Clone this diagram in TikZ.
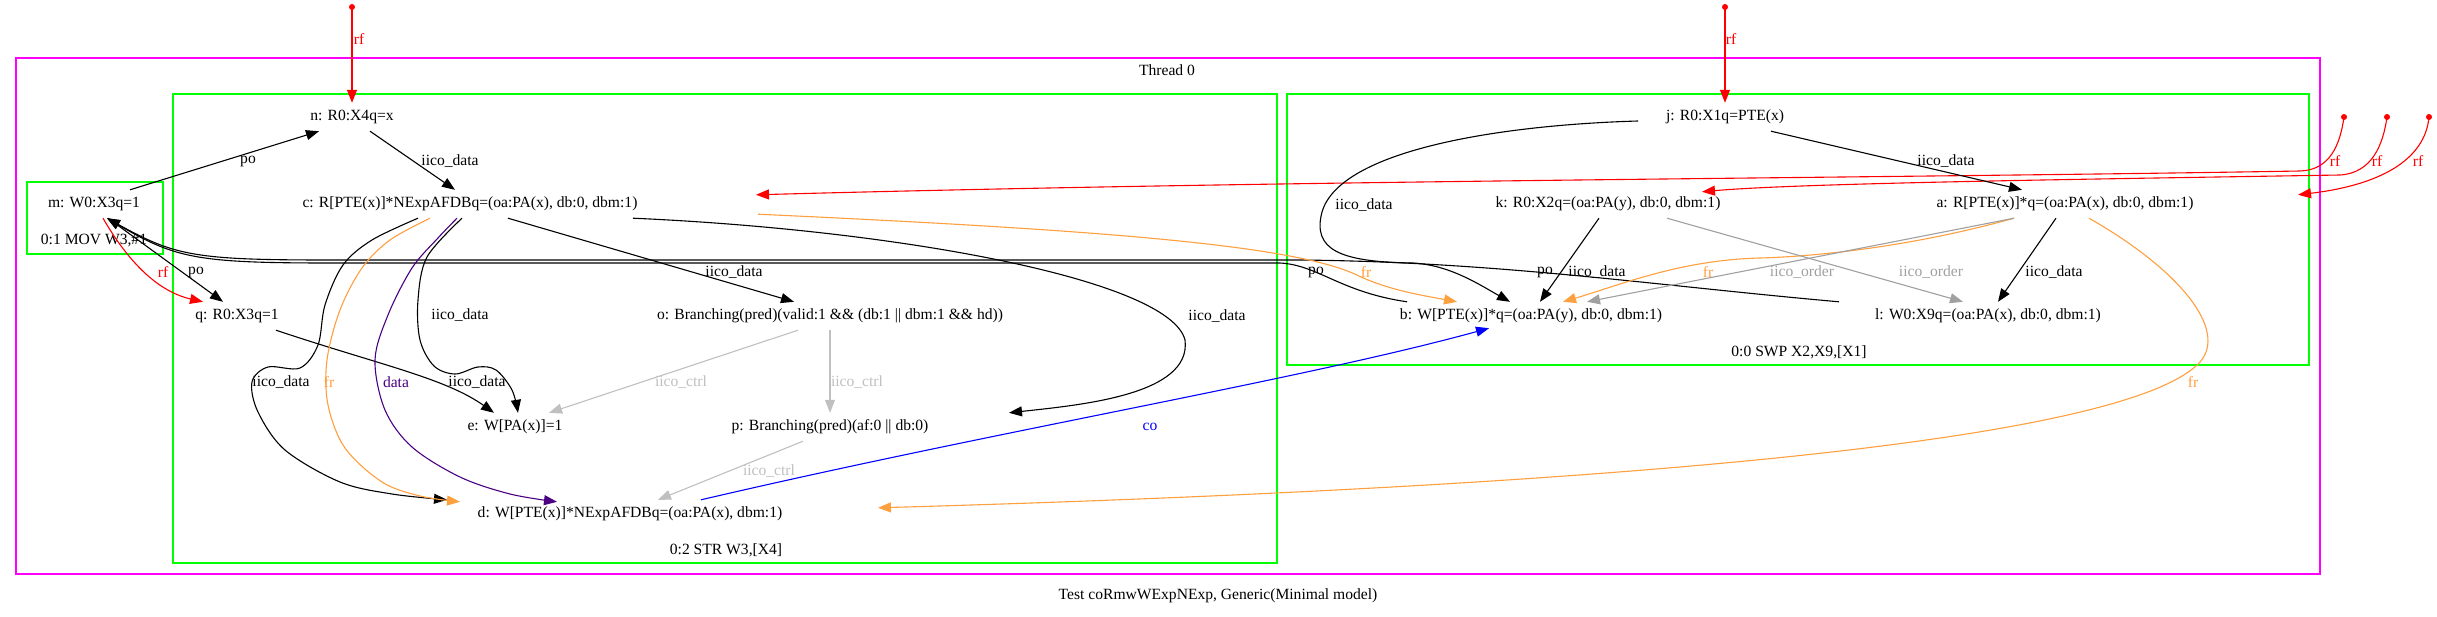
\documentclass[tikz,border=0pt]{standalone}
\usepackage{fontspec}
\setmainfont{Liberation Serif}
\usetikzlibrary{arrows.meta}
\definecolor{frcol}{RGB}{255,160,64}
\definecolor{ctrlcol}{RGB}{192,192,192}
\definecolor{ordcol}{RGB}{160,160,160}
\definecolor{datacol}{RGB}{75,0,130}
\definecolor{magcol}{RGB}{255,0,255}
\definecolor{grncol}{RGB}{0,255,0}
\definecolor{cocol}{RGB}{0,0,255}
\definecolor{rfcol}{RGB}{255,0,0}
\newcommand{\fs}{\fontsize{15.6}{18}\selectfont}
\tikzset{
  lbl/.style={inner sep=0pt, minimum height=28pt, font=\fs},
  elab/.style={inner sep=0pt, font=\fs},
  edgeline/.style={line width=1.1pt, -{Triangle[length=13pt,width=10pt]}},
  blk/.style={edgeline, draw=black},
  rfe/.style={edgeline, draw=rfcol},
  fre/.style={edgeline, draw=frcol},
  ctrle/.style={edgeline, draw=ctrlcol},
  orde/.style={edgeline, draw=ordcol},
  datae/.style={edgeline, draw=datacol},
  coe/.style={edgeline, draw=cocol},
  clus/.style={draw=grncol, line width=1.6pt},
  thr/.style={draw=magcol, line width=1.6pt},
  srcdot/.style={circle, fill=rfcol, inner sep=0pt, minimum size=6pt},
}
\begin{document}
\begin{tikzpicture}[x=1pt,y=-1pt]
\useasboundingbox (0,0) rectangle (2437,616);
\fill[white] (0,0) rectangle (2437,616);
% clusters
\draw[thr] (16,58) rectangle (2320,574);
\draw[clus] (173,94) rectangle (1277,563);
\draw[clus] (1287,94) rectangle (2309,365);
\draw[clus] (27,182) rectangle (163,254);
\node[elab] (thread) at (1167,70) {Thread 0};
\node[elab] (title) at (1218,596) {Test coRmwWExpNExp, Generic(Minimal model)};
\node[elab] (cl1) at (94,241) {0:1 MOV W3,\#1};
\node[elab] (cl2) at (726,550) {0:2 STR W3,[X4]};
\node[elab] (cl0) at (1799,352) {0:0 SWP X2,X9,[X1]};
% nodes
\node[lbl] (n) at (352,117) {n: R0:X4q=x};
\node[lbl] (m) at (94,204) {m: W0:X3q=1};
\node[lbl] (c) at (470,204) {c: R[PTE(x)]*NExpAFDBq=(oa:PA(x), db:0, dbm:1)};
\node[lbl] (q) at (237,316) {q: R0:X3q=1};
\node[lbl] (o) at (830,316) {o: Branching(pred)(valid:1 \&\& (db:1 || dbm:1 \&\& hd))};
\node[lbl] (e) at (515,427) {e: W[PA(x)]=1};
\node[lbl] (p) at (830,427) {p: Branching(pred)(af:0 || db:0)};
\node[lbl] (d) at (630,514) {d: W[PTE(x)]*NExpAFDBq=(oa:PA(x), dbm:1)};
\node[lbl] (j) at (1725,117) {j: R0:X1q=PTE(x)};
\node[lbl] (k) at (1608,204) {k: R0:X2q=(oa:PA(y), db:0, dbm:1)};
\node[lbl] (a) at (2065,204) {a: R[PTE(x)]*q=(oa:PA(x), db:0, dbm:1)};
\node[lbl] (b) at (1531,316) {b: W[PTE(x)]*q=(oa:PA(y), db:0, dbm:1)};
\node[lbl] (l) at (1988,316) {l: W0:X9q=(oa:PA(x), db:0, dbm:1)};
% rf sources
\node[srcdot] (s1) at (352,7) {};
\node[srcdot] (s2) at (1725,7) {};
\node[srcdot] (s3) at (2344,117) {};
\node[srcdot] (s4) at (2387,117) {};
\node[srcdot] (s5) at (2429,117) {};
% rf edges
\draw[rfe] (s1.center) -- (n.north) node[elab, text=rfcol] at (359,39) {rf};
\draw[rfe] (s2.center) -- (j.north) node[elab, text=rfcol] at (1731,39) {rf};
\draw[rfe] (s3.center) .. controls (2340,145) and (2330,170) .. (2300,171) .. controls (1900,178) and (1300,180) .. ([xshift=286,yshift=-5]c.north) node[elab, text=rfcol] at (2335,161) {rf};
\draw[rfe] (s4.center) .. controls (2383,145) and (2372,173) .. (2340,175) .. controls (2100,179) and (1800,183) .. ([xshift=94,yshift=-2]k.north) node[elab, text=rfcol] at (2377,161) {rf};
\draw[rfe] (s5.center) .. controls (2425,160) and (2380,185) .. ([xshift=233,yshift=-5]a.north) node[elab, text=rfcol] at (2418,161) {rf};
\draw[rfe] ([xshift=9]m.south) .. controls (130,265) and (160,292) .. ([xshift=-34]q.north) node[elab, text=rfcol] at (163,272) {rf};
% po edges
\draw[blk] ([xshift=36]m.north) -- ([xshift=-33]n.south) node[elab] at (248,161) {po};
\draw[blk] ([xshift=14]m.south) -- ([xshift=-14]q.north) node[elab] at (196,272) {po};
\draw[blk] ([xshift=-124]b.north) .. controls (1340,292) and (1318,265) .. (1280,263) -- (330,263) .. controls (195,263) and (175,258) .. ([xshift=13]m.south) node[elab] at (1316,272) {po};
\draw[blk] ([xshift=-149]l.north) .. controls (1650,285) and (1500,262) .. (1300,260) -- (330,260) .. controls (195,260) and (175,256) .. ([xshift=13]m.south) node[elab] at (1545,272) {po};
% iico_data edges
\draw[blk] ([xshift=18]n.south) -- ([xshift=-15]c.north) node[elab] at (450,161) {iico\_data};
\draw[blk] plot[smooth, tension=0.55] coordinates {([xshift=-8]c.south) (427,257) (418,300) (420,340) (434,366) (455,374) (478,367) (496,370) (512,390) ([xshift=3]e.north)} node[elab] at (460,315) {iico\_data};
\draw[blk] ([xshift=39]q.south) .. controls (380,365) and (445,378) .. ([xshift=-21]e.north) node[elab] at (477,382) {iico\_data};
\draw[blk] plot[smooth, tension=0.55] coordinates {([xshift=-52]c.south) (372,240) (343,265) (325,305) (318,345) (300,368) (268,367) (252,382) (258,412) (285,450) (340,482) (392,494) ([xshift=-183]d.north)} node[elab] at (281,382) {iico\_data};
\draw[fre] plot[smooth, tension=0.55] coordinates {([xshift=-40]c.south) (390,240) (362,268) (340,310) (327,360) (328,405) (345,448) (382,482) (420,496) ([xshift=-170,yshift=-2]d.north)} node[elab, text=frcol] at (329,382) {fr};
\draw[datae] plot[smooth, tension=0.55] coordinates {([xshift=-13]c.south) (438,238) (412,268) (388,315) (375,360) (385,410) (412,447) (460,477) (510,494) ([xshift=-73,yshift=-2]d.north)} node[elab, text=datacol] at (396,382) {data};
\draw[blk] ([xshift=38]c.south) -- ([xshift=-36]o.north) node[elab] at (734,272) {iico\_data};
\draw[blk] ([xshift=163]c.south) .. controls (900,230) and (1170,280) .. (1185,340) .. controls (1192,395) and (1080,405) .. ([xshift=179]p.north) node[elab] at (1217,316) {iico\_data};
\draw[fre] ([xshift=288,yshift=4]c.south) .. controls (1100,230) and (1300,245) .. (1361,277) .. controls (1390,290) and (1420,295) .. ([xshift=-74]b.north) node[elab, text=frcol] at (1366,272) {fr};
% ctrl
\draw[ctrle] ([xshift=-32]o.south) -- ([xshift=34]e.north) node[elab, text=ctrlcol] at (681,382) {iico\_ctrl};
\draw[ctrle] (o.south) -- (p.north) node[elab, text=ctrlcol] at (857,382) {iico\_ctrl};
\draw[ctrle] ([xshift=-27]p.south) -- ([xshift=28]d.north) node[elab, text=ctrlcol] at (769,471) {iico\_ctrl};
% co
\draw[coe] ([xshift=71]d.north) .. controls (1000,430) and (1300,380) .. ([xshift=-42,yshift=2]b.south) node[elab, text=cocol] at (1150,427) {co};
% right cluster
\draw[blk] ([xshift=-87,yshift=-4]j.center) .. controls (1500,125) and (1340,150) .. (1322,212) .. controls (1312,250) and (1340,262) .. (1413,263) .. controls (1450,265) and (1480,285) .. ([xshift=-21]b.north) node[elab] at (1364,205) {iico\_data};
\draw[blk] ([xshift=46]j.south) -- ([xshift=-43]a.north) node[elab] at (1946,161) {iico\_data};
\draw[blk] ([xshift=-9]k.south) -- ([xshift=9]b.north) node[elab] at (1597,272) {iico\_data};
\draw[fre] ([xshift=-51]a.south) .. controls (1900,250) and (1800,257) .. (1760,258) .. controls (1680,260) and (1620,285) .. ([xshift=32]b.north) node[elab, text=frcol] at (1708,272) {fr};
\draw[orde] ([xshift=-51]a.south) -- ([xshift=56]b.north) node[elab, text=ordcol] at (1802,272) {iico\_order};
\draw[orde] ([xshift=59]k.south) -- ([xshift=-25]l.north) node[elab, text=ordcol] at (1931,272) {iico\_order};
\draw[blk] ([xshift=-9]a.south) -- ([xshift=10]l.north) node[elab] at (2054,272) {iico\_data};
\draw[fre] ([xshift=24]a.south) .. controls (2180,270) and (2228,330) .. (2200,362) .. controls (2120,450) and (1500,490) .. ([xshift=248,yshift=-8]d.north) node[elab, text=frcol] at (2193,382) {fr};
\end{tikzpicture}
\end{document}
